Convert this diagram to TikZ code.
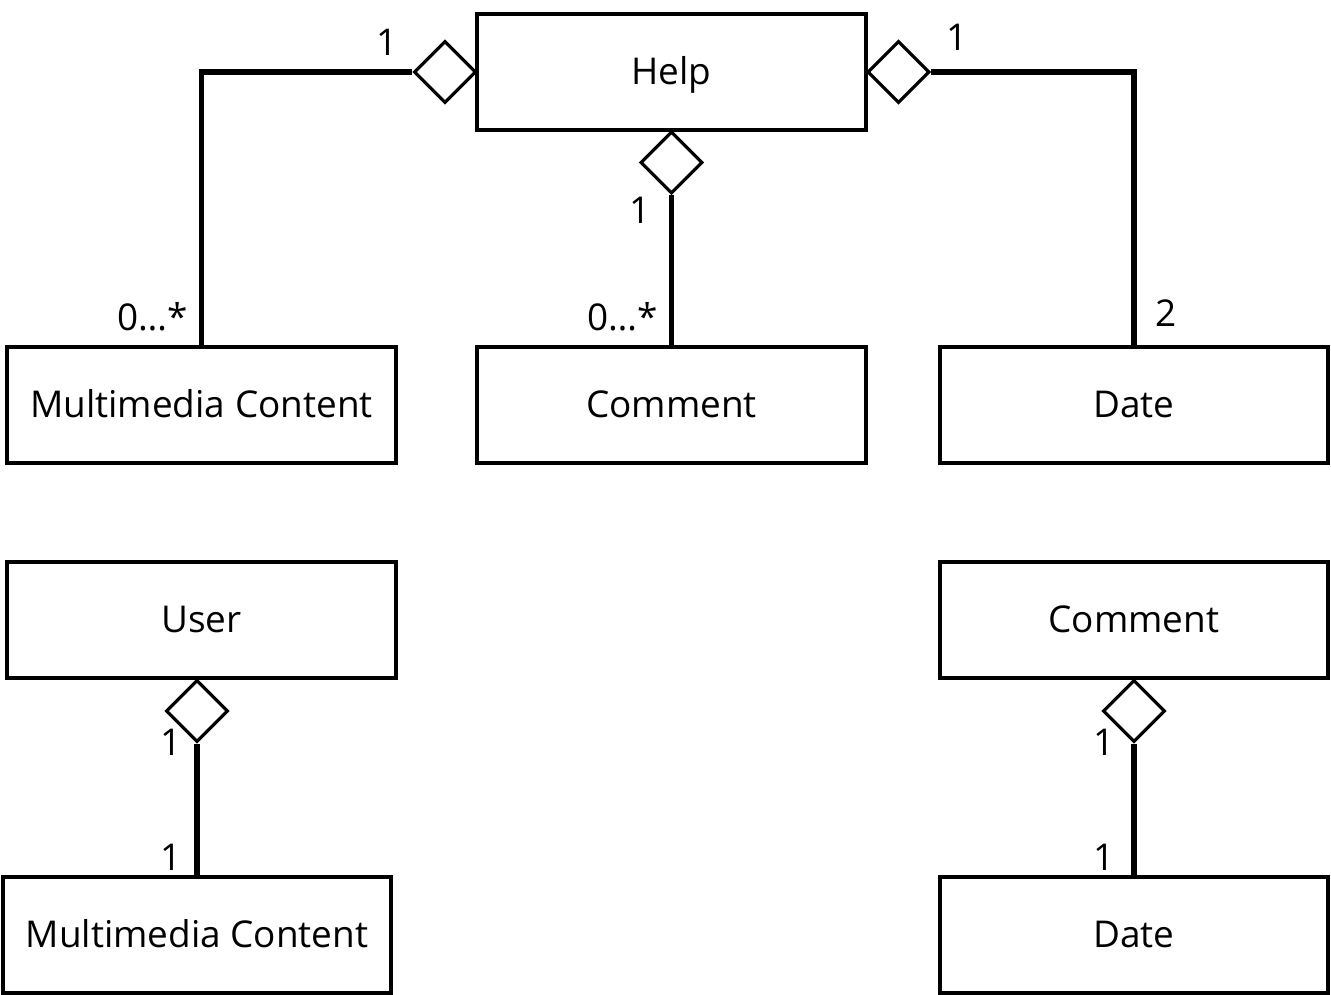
\documentclass[tikz,border=0pt]{standalone}
\usepackage{fontspec}
\setmainfont{Open Sans}
\usetikzlibrary{shapes.geometric}
\tikzset{
  cls/.style={draw, line width=1.1pt, minimum width=3.88cm, minimum height=1.16cm, inner sep=0pt, text height=0.72em, text depth=0pt, font=\fontsize{10.5}{12}\selectfont},
  agg/.style={draw, diamond, line width=0.9pt, fill=white, minimum width=0.62cm, minimum height=0.62cm, inner sep=0pt},
  link/.style={line width=1.6pt},
  mult/.style={font=\fontsize{10.5}{12}\selectfont, inner sep=0pt}
}
\begin{document}
\begin{tikzpicture}[x=0.01cm, y=-0.01cm]
\useasboundingbox (0,0) rectangle (1331,995);
% Classes
\node[cls] (help) at (671.5,72) {Help};
\node[cls] (media1) at (201.5,405) {Multimedia Content};
\node[cls] (comment1) at (671.5,405) {Comment};
\node[cls] (date1) at (1134,405) {Date};
\node[cls] (user) at (201.5,620) {User};
\node[cls] (comment2) at (1134,620) {Comment};
\node[cls] (media2) at (197,935) {Multimedia Content};
\node[cls] (date2) at (1134,935) {Date};
% Aggregation diamonds
\node[agg] (aggL) at (445,72) {};
\node[agg] (aggR) at (898.5,72) {};
\node[agg] (aggB) at (671.5,162.5) {};
\node[agg] (aggU) at (197,711) {};
\node[agg] (aggC) at (1134,711) {};
% Links
\draw[link] (aggL.west) -| (media1.north);
\draw[link] (aggR.east) -| (date1.north);
\draw[link] (aggB.south) -- (comment1.north);
\draw[link] (aggU.south) -- (media2.north);
\draw[link] (aggC.south) -- (date2.north);
% Multiplicities
\node[mult] (mL) at (387,42) {1};
\node[mult] (mR) at (957,37) {1};
\node[mult] (mB) at (640,210) {1};
\node[mult] (mMedia) at (153,317) {0…*};
\node[mult] (mComment) at (623,317) {0…*};
\node[mult] (mDate) at (1166,313) {2};
\node[mult] (mU) at (171,742) {1};
\node[mult] (mMedia2) at (171,857) {1};
\node[mult] (mC) at (1104,742) {1};
\node[mult] (mDate2) at (1104,857) {1};
\end{tikzpicture}
\end{document}
